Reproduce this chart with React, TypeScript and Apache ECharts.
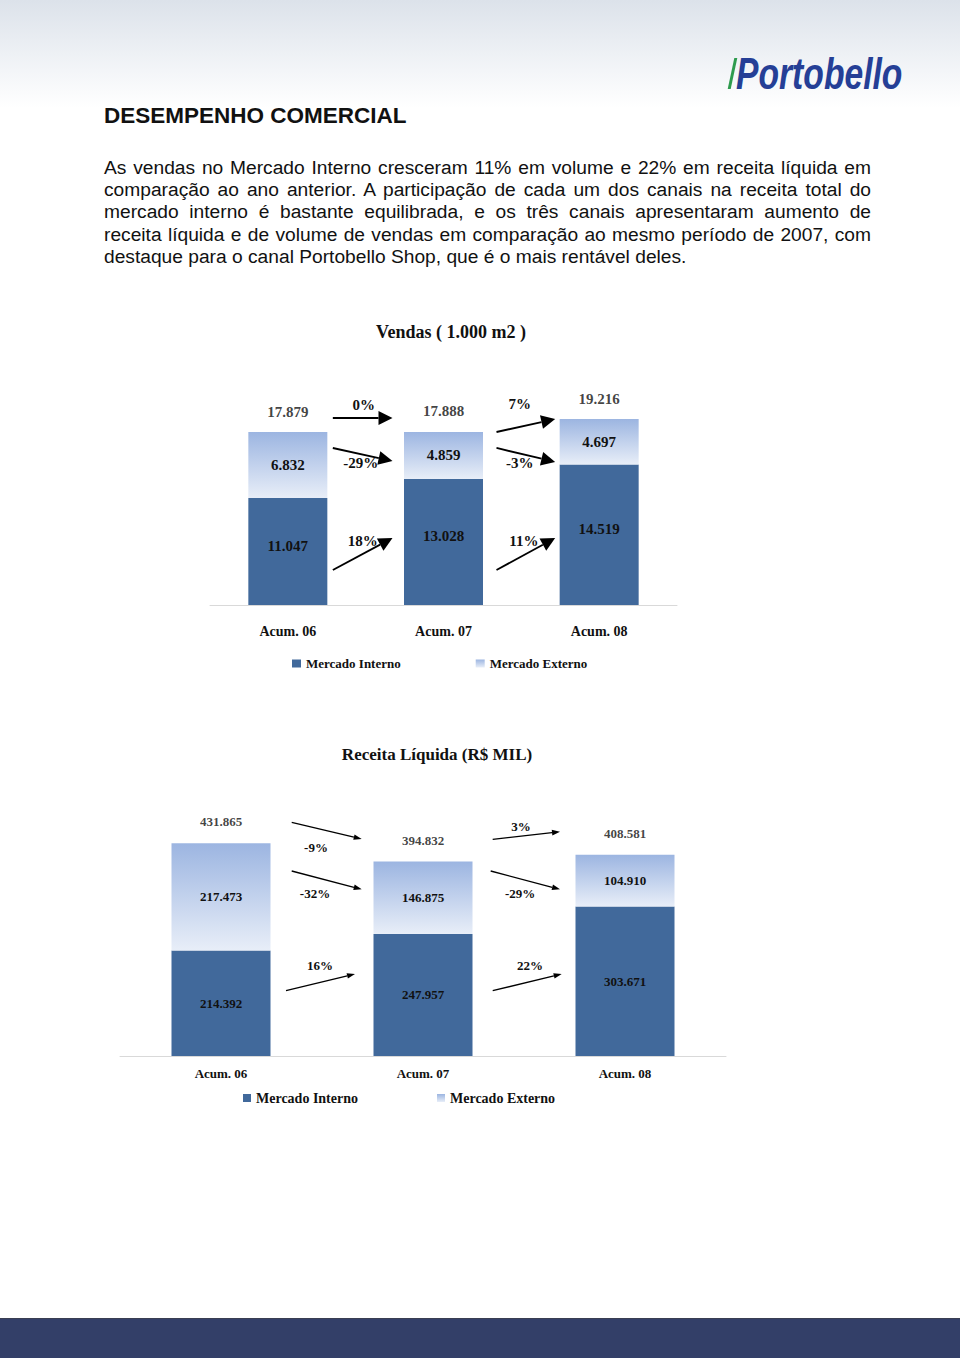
import React, { useEffect, useRef } from 'react';
import * as echarts from 'echarts';

const categories = ['Acum. 06', 'Acum. 07', 'Acum. 08'];
const seriesNames = ['Mercado Interno', 'Mercado Externo'];

// Vendas (1.000 m2)
const volInterno = [11047, 13028, 14519];
const volExterno = [6832, 4859, 4697];
const volTotal = [17879, 17888, 19216];
const volChangeText = ['0%', '-29%', '18%', '7%', '-3%', '11%'];
const volChangeFrom = [0, 0, 0, 1, 1, 1];
const volArrowStart = [19326, 16226, 3617, 17879, 16226, 3617];
const volArrowEnd = [19326, 14882, 6924, 19223, 14779, 6924];

// Receita Líquida (R$ MIL)
const revInterno = [214392, 247957, 303671];
const revExterno = [217473, 146875, 104910];
const revTotal = [431865, 394832, 408581];
const revChangeText = ['-9%', '-32%', '16%', '3%', '-29%', '22%'];
const revChangeFrom = [0, 0, 0, 1, 1, 1];
const revArrowStart = [474518, 375635, 132589, 440000, 375635, 132589];
const revArrowEnd = [440609, 338477, 166497, 455431, 338477, 166497];

const paragraphLines = [
  'As vendas no Mercado Interno cresceram 11% em volume e 22% em receita líquida em',
  'comparação ao ano anterior. A participação de cada um dos canais na receita total do',
  'mercado interno é bastante equilibrada, e os três canais apresentaram aumento de',
  'receita líquida e de volume de vendas em comparação ao mesmo período de 2007, com',
  'destaque para o canal Portobello Shop, que é o mais rentável deles.',
];

// layout (px): [start offset from left bar centre, end offset from right bar centre, label dx, label dy]
const volArrowLayout = [
  [45, 51, 1, -13], [45, 51, -2, 8.5], [45, 51, 0, -13],
  [53, 44, -6, -21.5], [53, 44, -6, 8], [53, 44, -2, -13],
];
const revArrowLayout = [
  [70.7, 61.3, -10.7, 17.3], [70.7, 61.3, -11.7, 13], [65, 68, -0.5, -16.4],
  [69.7, 65, -5.3, -9.5], [67.7, 65, -5.3, 13], [69.7, 63.3, 2.8, -16.4],
];

const fmt = (n: number) => String(n).replace(/\B(?=(\d{3})+(?!\d))/g, '.');
const SERIF = '"Liberation Serif", "Times New Roman", serif';
const INTERNO = '#41699b';
const externoGrad = () =>
  new echarts.graphic.LinearGradient(0, 0, 0, 1, [
    { offset: 0, color: '#9cb5e1' },
    { offset: 1, color: '#e8eef8' },
  ]);

function arrowRenderer(layout: number[][], labels: string[], headLen: number, headHalf: number, lw: number, fontSize: number) {
  return (params: any, api: any) => {
    const i = params.dataIndex;
    const from = api.value(0);
    const a = api.coord([from, api.value(1)]);
    const b = api.coord([from + 1, api.value(2)]);
    const [dx0, dx1, lx, ly] = layout[i];
    const x1 = a[0] + dx0, y1 = a[1];
    const x2 = b[0] - dx1, y2 = b[1];
    const len = Math.hypot(x2 - x1, y2 - y1);
    const ux = (x2 - x1) / len, uy = (y2 - y1) / len;
    const bx = x2 - ux * headLen, by = y2 - uy * headLen;
    const nx = -uy, ny = ux;
    return {
      type: 'group',
      children: [
        { type: 'line', shape: { x1, y1, x2: bx, y2: by }, style: { stroke: '#000', lineWidth: lw } },
        {
          type: 'polygon',
          shape: { points: [[x2, y2], [bx + nx * headHalf, by + ny * headHalf], [bx - nx * headHalf, by - ny * headHalf]] },
          style: { fill: '#000' },
        },
        {
          type: 'text',
          x: (x1 + x2) / 2 + lx,
          y: (y1 + y2) / 2 + ly,
          style: {
            text: labels[i], fill: '#111', fontSize, fontWeight: 'bold', fontFamily: SERIF,
            align: 'center', verticalAlign: 'middle',
          },
        },
      ],
    };
  };
}

function buildOption() {
  const labelBase = { color: '#111', fontFamily: SERIF, fontWeight: 'bold' as const };
  return {
    animation: false,
    textStyle: { fontFamily: SERIF, fontWeight: 'bold' },
    graphic: [
      { type: 'text', x: 451, y: 332, style: { text: 'Vendas ( 1.000 m2 )', fill: '#111', fontSize: 18, fontWeight: 'bold', fontFamily: SERIF, align: 'center', verticalAlign: 'middle' } },
      { type: 'text', x: 437, y: 754, style: { text: 'Receita Líquida (R$ MIL)', fill: '#111', fontSize: 17, fontWeight: 'bold', fontFamily: SERIF, align: 'center', verticalAlign: 'middle' } },
    ],
    grid: [
      { left: 210, top: 363.1, width: 467, height: 241.9 },
      { left: 120, top: 809.75, width: 606, height: 246.25 },
    ],
    xAxis: [
      {
        type: 'category', gridIndex: 0, data: categories,
        axisLine: { lineStyle: { color: '#d9d9d9', width: 1 } }, axisTick: { show: false },
        axisLabel: { ...labelBase, fontSize: 14, margin: 19 },
      },
      {
        type: 'category', gridIndex: 1, data: categories,
        axisLine: { lineStyle: { color: '#d9d9d9', width: 1 } }, axisTick: { show: false },
        axisLabel: { ...labelBase, fontSize: 13, margin: 10.5 },
      },
    ],
    yAxis: [
      { type: 'value', gridIndex: 0, min: 0, max: 25000, show: false },
      { type: 'value', gridIndex: 1, min: 0, max: 500000, show: false },
    ],
    legend: [
      {
        data: seriesNames, left: 292, top: 657, padding: 0, itemWidth: 9, itemHeight: 8, itemGap: 75, icon: 'rect',
        textStyle: { ...labelBase, fontSize: 13 }, selectedMode: false,
      },
      {
        data: seriesNames, left: 243, top: 1091, padding: 0, itemWidth: 8, itemHeight: 8, itemGap: 79, icon: 'rect',
        textStyle: { ...labelBase, fontSize: 14 }, selectedMode: false,
      },
    ],
    series: [
      {
        name: seriesNames[0], type: 'bar', stack: 'vol', xAxisIndex: 0, yAxisIndex: 0, barWidth: 79,
        data: volInterno, itemStyle: { color: INTERNO },
        label: { show: true, position: 'inside', offset: [0, -6], ...labelBase, fontSize: 15, formatter: (p: any) => fmt(p.value) },
      },
      {
        name: seriesNames[1], type: 'bar', stack: 'vol', xAxisIndex: 0, yAxisIndex: 0, barWidth: 79,
        data: volExterno, itemStyle: { color: externoGrad() },
        label: { show: true, position: 'inside', ...labelBase, fontSize: 15, formatter: (p: any) => fmt(p.value) },
      },
      {
        name: 'Total Vendas', type: 'scatter', xAxisIndex: 0, yAxisIndex: 0, symbolSize: 1,
        data: volTotal, itemStyle: { color: 'transparent' },
        label: { show: true, position: 'top', distance: 12.5, ...labelBase, fontSize: 15, formatter: (p: any) => fmt(p.value) },
      },
      {
        name: 'Variação Vendas', type: 'custom', xAxisIndex: 0, yAxisIndex: 0,
        data: volChangeFrom.map((f, i) => [f, volArrowStart[i], volArrowEnd[i]]),
        encode: { x: 0, y: [1, 2] },
        renderItem: arrowRenderer(volArrowLayout, volChangeText, 14, 7, 1.8, 15),
      },
      {
        name: seriesNames[0], type: 'bar', stack: 'rev', xAxisIndex: 1, yAxisIndex: 1, barWidth: 99,
        data: revInterno, itemStyle: { color: INTERNO },
        label: { show: true, position: 'inside', ...labelBase, fontSize: 13, formatter: (p: any) => fmt(p.value) },
      },
      {
        name: seriesNames[1], type: 'bar', stack: 'rev', xAxisIndex: 1, yAxisIndex: 1, barWidth: 99,
        data: revExterno, itemStyle: { color: externoGrad() },
        label: { show: true, position: 'inside', ...labelBase, fontSize: 13, formatter: (p: any) => fmt(p.value) },
      },
      {
        name: 'Total Receita', type: 'scatter', xAxisIndex: 1, yAxisIndex: 1, symbolSize: 1,
        data: revTotal, itemStyle: { color: 'transparent' },
        label: { show: true, position: 'top', distance: 14.5, ...labelBase, fontSize: 13, formatter: (p: any) => fmt(p.value) },
      },
      {
        name: 'Variação Receita', type: 'custom', xAxisIndex: 1, yAxisIndex: 1,
        data: revChangeFrom.map((f, i) => [f, revArrowStart[i], revArrowEnd[i]]),
        encode: { x: 0, y: [1, 2] },
        renderItem: arrowRenderer(revArrowLayout, revChangeText, 8, 2.8, 1.3, 13),
      },
    ],
  };
}

export default function App() {
  const ref = useRef<HTMLDivElement>(null);
  useEffect(() => {
    const chart = echarts.init(ref.current!, null, { renderer: 'svg' });
    chart.setOption(buildOption() as any);
    return () => chart.dispose();
  }, []);

  return (
    <div
      style={{
        position: 'absolute', left: 0, top: 0, width: 960, height: 1358, overflow: 'hidden',
        background: 'linear-gradient(to bottom, #dce2ea 0px, #eef1f5 55px, #ffffff 108px)',
        fontFamily: '"Liberation Sans", Arial, sans-serif', color: '#111',
      }}
    >
      {/* logo */}
      <div style={{ position: 'absolute', left: 731, top: 58, width: 3, height: 31, background: '#2e9b4e', transform: 'skewX(-12deg)' }} />
      <div
        style={{
          position: 'absolute', left: 736, top: 51.8, height: 44, lineHeight: '44px', fontSize: 44,
          fontWeight: 'bold', fontStyle: 'italic', color: '#253f96', transform: 'scaleX(0.765)',
          transformOrigin: 'left top', whiteSpace: 'nowrap', fontFamily: '"Liberation Sans", Arial, sans-serif',
        }}
      >
        Portobello
      </div>

      <div style={{ position: 'absolute', left: 104, top: 102.7, fontSize: 22.5, lineHeight: '26px', fontWeight: 'bold', whiteSpace: 'nowrap' }}>
        DESEMPENHO COMERCIAL
      </div>

      <div style={{ position: 'absolute', left: 104, top: 156.5, width: 767, fontSize: 19.2, lineHeight: '22.4px' }}>
        {paragraphLines.map((l, i) => (
          <div
            key={i}
            style={{
              textAlign: i < paragraphLines.length - 1 ? 'justify' : 'left',
              textAlignLast: i < paragraphLines.length - 1 ? 'justify' : 'left',
            } as any}
          >
            {l}
          </div>
        ))}
      </div>

      <div style={{ position: 'absolute', left: 0, top: 1318, width: 960, height: 40, background: '#333f68', borderTop: '1px solid #3a3f52' }} />

      <div ref={ref} style={{ position: 'absolute', left: 0, top: 0, width: 960, height: 1358 }} />
    </div>
  );
}
